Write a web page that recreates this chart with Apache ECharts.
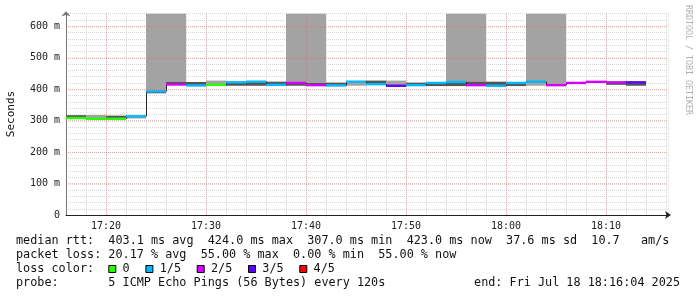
<!DOCTYPE html>
<html><head><meta charset="utf-8">
<script src="https://cdn.jsdelivr.net/npm/echarts@6/dist/echarts.min.js"></script>
<style>html,body{margin:0;padding:0;background:#fff}#c{width:697px;height:297px}</style>
</head><body><div id="c"></div>
<script>
// ---- data ----
const stepTimes = ['17:16','17:18','17:20','17:22','17:24','17:26','17:28','17:30','17:32','17:34',
  '17:36','17:38','17:40','17:42','17:44','17:46','17:48','17:50','17:52','17:54',
  '17:56','17:58','18:00','18:02','18:04','18:06','18:08','18:10','18:12'];
const stepMinutes = 2;
const medianMs = [308.5,306,306,314,393,415,412,414,422,424,414,420,413,412,424,416,411,413,420,423,413,411,420,424,413,420,423.5,422,422];
const lossIdx  = [0,0,0,1,1,2,1,0,1,1,1,2,2,1,1,1,3,1,1,1,2,1,1,1,2,2,2,2,3];
const smokeLo  = [308,305,305,307,387,415,412,414,411,411,414,411,413,412,411,416,411,413,410,410,413,411,410,411,null,null,null,414,411];
const smokeHi  = [317.5,318,316,314,393,423,423,427.5,422,424,424,420,421,421,424,427.5,427.5,421,420,423,424,424,420,424,null,null,null,422,422];
const smokeShade = ['d','l','d','l','d','d','d','l','d','d','d','d','d','d','l','d','l','d','d','d','d','d','d','l',null,null,null,'d','d'];
const tallLo   = [null,null,null,null,393,423,null,null,null,null,null,420,421,null,null,null,null,null,null,423,424,null,null,424,413,null,null,null,null];
const tallHi   = [null,null,null,null,700,700,null,null,null,null,null,700,700,null,null,null,null,null,null,700,700,null,null,700,700,null,null,null,null];
const lossLabels = ['0','1/5','2/5','3/5','4/5'];
const lossColors = ['#26ff00','#00b8ff','#d400ff','#5e00ff','#ff0000'];
const xTickValues = ['17:20','17:30','17:40','17:50','18:00','18:10'];
const yTickValues = [0,100,200,300,400,500,600];
const yTickLabels = ['0','100 m','200 m','300 m','400 m','500 m','600 m'];
const axisStart = '17:16', axisEndMin = 76.2, yMax = 640;
const statsLine1 = 'median rtt:  403.1 ms avg  424.0 ms max  307.0 ms min  423.0 ms now  37.6 ms sd  10.7   am/s';
const statsLine2 = 'packet loss: 20.17 % avg  55.00 % max  0.00 % min  55.00 % now';
const probeLine  = 'probe:       5 ICMP Echo Pings (56 Bytes) every 120s';
const endLine    = 'end: Fri Jul 18 18:16:04 2025';
const watermark  = 'RRDTOOL / TOBI OETIKER';
const yTitle = 'Seconds';

// ---- helpers ----
const toMin = t => { const p = t.split(':').map(Number); return (p[0]-17)*60 + p[1]; };
const fmtMin = v => { const h = 17 + Math.floor(v/60), m = Math.round(v%60); return h + ':' + String(m).padStart(2,'0'); };
const MONO = "'DejaVu Sans Mono', monospace";

const steps = stepTimes.map((t,i) => {
  const s = toMin(t);
  return { s, e: s + stepMinutes, med: medianMs[i], loss: lossIdx[i],
    lo: smokeLo[i], hi: smokeHi[i], shade: smokeShade[i], tlo: tallLo[i], thi: tallHi[i] };
});

const tallData = steps.filter(d => d.tlo != null).map(d => [d.s, d.e, d.tlo, Math.min(d.thi, yMax)]);
const bandData = steps.filter(d => d.lo != null).map(d => [d.s, d.e, d.lo, d.hi, d.shade === 'd' ? 0 : 1]);
const connData = steps.slice(1).map((d,i) => [d.s, steps[i].med, d.med]);
const medData  = steps.map(d => [d.s, d.e, d.med, d.loss]);
const majorXData = xTickValues.map(t => [toMin(t)]);
const majorYData = yTickValues.filter(v => v > 0).map(v => [v]);

const shadeColors = ['#555555', '#a3a3a3'];
const majorColor = 'rgba(215,110,110,0.5)';

const chart = echarts.init(document.getElementById('c'), null, {renderer:'canvas'});

const grid = {left:66, top:13.7, width:602, height:201.4};

// legend graphics
const graphics = [];
const lineY = [241, 255.3, 269, 283];
const F = '11.8px ' + MONO;
graphics.push({type:'text', x:16, y:lineY[0], style:{text:statsLine1, font:F, fill:'#111', verticalAlign:'middle'}});
graphics.push({type:'text', x:16, y:lineY[1], style:{text:statsLine2, font:F, fill:'#111', verticalAlign:'middle'}});
graphics.push({type:'text', x:16, y:lineY[2], style:{text:'loss color:', font:F, fill:'#111', verticalAlign:'middle'}});
let bx = 108.3;
lossLabels.forEach((lab,i) => {
  graphics.push({type:'rect', shape:{x:bx+0.5, y:265.5, width:7, height:7}, style:{fill:lossColors[i], stroke:'#000', lineWidth:1}});
  const lx = bx + 14.3;
  graphics.push({type:'text', x:lx, y:lineY[2], style:{text:lab, font:F, fill:'#111', verticalAlign:'middle'}});
  bx = lx + lab.length*7.1 + 15.7;
});
graphics.push({type:'text', x:16, y:lineY[3], style:{text:probeLine, font:F, fill:'#111', verticalAlign:'middle'}});
graphics.push({type:'text', x:680, y:lineY[3], style:{text:endLine, font:F, fill:'#111', align:'right', verticalAlign:'middle'}});
graphics.push({type:'text', x:11, y:114, rotation:Math.PI/2, style:{text:yTitle, font:'11px '+MONO, fill:'#111', align:'center', verticalAlign:'middle'}});
graphics.push({type:'text', x:688, y:60, rotation:-Math.PI/2, style:{text:watermark, font:'8.3px '+MONO, fill:'#b0b0b0', align:'center', verticalAlign:'middle'}});

chart.setOption({
  animation:false,
  backgroundColor:'#ffffff',
  grid,
  xAxis:{type:'value', min:toMin(axisStart), max:axisEndMin, interval:2,
    axisLine:{show:true, onZero:false, lineStyle:{color:'#222', width:1}, symbol:['none','arrow'], symbolSize:[6,6], symbolOffset:[0,3]},
    axisTick:{show:false},
    axisLabel:{color:'#222', fontFamily:MONO, fontSize:10, margin:6, showMinLabel:false, showMaxLabel:false,
      formatter: v => { const s = fmtMin(v); return xTickValues.includes(s) && Math.abs(v - toMin(s)) < 0.01 ? s : ''; }},
    splitLine:{show:true, lineStyle:{color:'#d6d6d6', width:1, type:[1,1]}}
  },
  yAxis:{type:'value', min:0, max:yMax, interval:20,
    axisLine:{show:true, lineStyle:{color:'#777', width:1}, symbol:['none','arrow'], symbolSize:[7,5], symbolOffset:[0,2.5]},
    axisTick:{show:false},
    axisLabel:{color:'#222', fontFamily:MONO, fontSize:10, margin:6,
      formatter: v => { const i = yTickValues.indexOf(v); return i >= 0 ? yTickLabels[i] : ''; }},
    splitLine:{show:true, lineStyle:{color:'#d6d6d6', width:1, type:[1,1]}}
  },
  graphic: graphics,
  series:[
    {type:'custom', name:'tallSmoke', data:tallData, encode:{x:[0,1], y:[2,3]}, silent:true,
      renderItem:(p, api) => {
        const a = api.coord([api.value(0), api.value(3)]), b = api.coord([api.value(1), api.value(2)]);
        return {type:'rect', shape:{x:a[0], y:a[1], width:b[0]-a[0], height:b[1]-a[1]}, style:{fill:'#a3a3a3'}};
      }},
    {type:'custom', name:'smoke', data:bandData, encode:{x:[0,1], y:[2,3]}, silent:true,
      renderItem:(p, api) => {
        const a = api.coord([api.value(0), api.value(3)]), b = api.coord([api.value(1), api.value(2)]);
        return {type:'rect', shape:{x:a[0], y:a[1], width:b[0]-a[0], height:b[1]-a[1]}, style:{fill:shadeColors[api.value(4)]}};
      }},
    {type:'custom', name:'connect', data:connData, encode:{x:0, y:[1,2]}, silent:true,
      renderItem:(p, api) => {
        const a = api.coord([api.value(0), api.value(1)]), b = api.coord([api.value(0), api.value(2)]);
        return {type:'line', shape:{x1:a[0]+0.5, y1:a[1], x2:b[0]+0.5, y2:b[1]}, style:{stroke:'#222', lineWidth:1}};
      }},
    {type:'custom', name:'median', data:medData, encode:{x:[0,1], y:2}, silent:true,
      renderItem:(p, api) => {
        const a = api.coord([api.value(0), api.value(2)]), b = api.coord([api.value(1), api.value(2)]);
        return {type:'line', shape:{x1:a[0], y1:a[1], x2:b[0], y2:b[1]}, style:{stroke:lossColors[api.value(3)], lineWidth:2.4}};
      }},
    {type:'custom', name:'majorX', data:majorXData, encode:{x:0}, silent:true,
      renderItem:(p, api) => {
        const a = api.coord([api.value(0), 0]), b = api.coord([api.value(0), yMax]);
        return {type:'line', shape:{x1:a[0]+0.5, y1:a[1], x2:b[0]+0.5, y2:b[1]}, style:{stroke:majorColor, lineWidth:1, lineDash:[1,1]}};
      }},
    {type:'custom', name:'majorY', data:majorYData, encode:{y:0}, silent:true,
      renderItem:(p, api) => {
        const a = api.coord([toMin(axisStart), api.value(0)]), b = api.coord([axisEndMin, api.value(0)]);
        return {type:'line', shape:{x1:a[0], y1:a[1]+0.5, x2:b[0], y2:b[1]+0.5}, style:{stroke:majorColor, lineWidth:1, lineDash:[1,1]}};
      }}
  ]
});
</script>
</body></html>
